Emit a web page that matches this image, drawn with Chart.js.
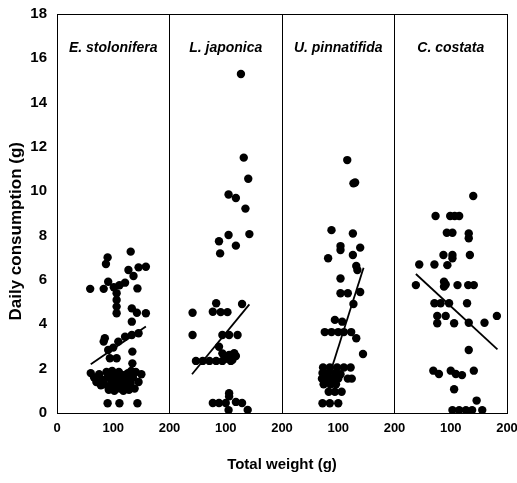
<!DOCTYPE html>
<html>
<head>
<meta charset="utf-8">
<script src="https://cdn.jsdelivr.net/npm/chart.js@4/dist/chart.umd.min.js"></script>
<style>
  body { margin: 0; background: #fff; }
</style>
</head>
<body>
<canvas id="chart" width="517" height="483"></canvas>
<script>
// species shown in the four panels (each panel spans 0-200 g on x)
const species = ['E. stolonifera', 'L. japonica', 'U. pinnatifida', 'C. costata'];

// E. stolonifera
const stoloniferaWeight = [131, 90, 87, 158, 145, 127, 136, 59, 83, 91, 101, 111, 121, 143, 106, 106, 106, 106, 133, 142, 158, 133,
  85, 83, 121, 133, 145, 109, 91, 100, 94, 106, 134, 134,
  60, 66, 70, 75, 80, 84, 88, 90, 94, 97, 100, 102, 105, 107, 110, 112, 115, 118, 120, 123, 126, 128, 131, 135, 140, 145, 150, 138, 92, 78, 118, 98, 132,
  90, 111, 143];
const stoloniferaConsumption = [7.28, 7.02, 6.72, 6.6, 6.57, 6.45, 6.18, 5.6, 5.6, 5.92, 5.67, 5.76, 5.88, 5.62, 5.4, 5.1, 4.8, 4.5, 4.72, 4.52, 4.5, 4.12,
  3.37, 3.22, 3.44, 3.52, 3.6, 3.22, 2.84, 2.95, 2.47, 2.47, 2.77, 2.24,
  1.8, 1.6, 1.4, 1.75, 1.5, 1.3, 1.85, 1.6, 1.2, 1.45, 1.75, 1.0, 1.3, 1.55, 1.85, 1.1, 1.4, 1.7, 1.25, 1.5, 1.8, 1.05, 1.35, 1.6, 1.85, 1.4, 1.75, 1.1, 1.05, 1.25, 1.0, 1.9, 1.9,
  0.44, 0.44, 0.44];

// L. japonica
const japonicaWeight = [127, 132, 140, 105, 118, 135, 105, 142, 88, 118, 90,
  41, 83, 77, 91, 103, 129, 41, 94, 106, 121, 88, 94, 106, 118, 47, 59, 71, 83, 94, 109, 100, 112, 115,
  106, 106, 77, 88, 100, 118, 129, 105, 139];
const japonicaConsumption = [15.29, 11.52, 10.57, 9.86, 9.7, 9.22, 8.03, 8.07, 7.75, 7.55, 7.2,
  4.52, 4.95, 4.57, 4.55, 4.55, 4.92, 3.52, 3.52, 3.52, 3.52, 2.99, 2.69, 2.62, 2.57, 2.35, 2.35, 2.35, 2.35, 2.35, 2.35, 2.45, 2.4, 2.7,
  0.89, 0.75, 0.45, 0.45, 0.45, 0.5, 0.45, 0.13, 0.14];

// U. pinnatifida
const pinnatifidaWeight = [116, 127, 130, 88, 126, 104, 104, 139, 82, 126, 132, 134, 104, 104, 117, 139, 127, 94, 107, 76, 88, 100, 110, 123, 132, 144,
  73, 85, 98, 110, 122, 72, 82, 94, 104, 71, 80, 90, 100, 117, 124, 74, 86, 96, 83, 94, 106, 72, 85, 100];
const pinnatifidaConsumption = [11.41, 10.36, 10.4, 8.25, 8.1, 7.53, 7.35, 7.46, 6.98, 7.13, 6.63, 6.45, 6.07, 5.4, 5.4, 5.46, 4.92, 4.2, 4.12, 3.65, 3.65, 3.65, 3.65, 3.65, 3.37, 2.66,
  2.05, 2.05, 2.05, 2.05, 2.05, 1.8, 1.8, 1.8, 1.75, 1.55, 1.55, 1.55, 1.55, 1.55, 1.55, 1.3, 1.3, 1.3, 0.96, 0.96, 0.96, 0.44, 0.44, 0.44];

// C. costata
const costataWeight = [140, 73, 99, 107, 115, 93, 103, 132, 132, 87, 103, 103, 134, 44, 71, 94, 38, 88, 88, 91, 112, 131, 141,
  71, 82, 97, 129, 76, 76, 91, 106, 132, 160, 182, 132, 69, 79, 100, 109, 120, 141, 106, 146, 103, 115, 127, 138, 156];
const costataConsumption = [9.79, 8.89, 8.89, 8.89, 8.89, 8.13, 8.13, 8.1, 7.88, 7.13, 7.13, 6.98, 7.13, 6.7, 6.7, 6.67, 5.77, 5.92, 5.7, 5.8, 5.77, 5.77, 5.77,
  4.95, 4.95, 4.95, 4.95, 4.38, 4.05, 4.38, 4.05, 4.07, 4.07, 4.38, 2.84, 1.91, 1.76, 1.91, 1.76, 1.71, 1.91, 1.07, 0.56, 0.13, 0.13, 0.13, 0.13, 0.13];

// regression line end points per panel
const fitWeight = [[60, 158], [40, 142], [78, 145], [38, 183]];
const fitConsumption = [[2.2, 3.9], [1.75, 4.9], [1.2, 6.55], [6.27, 2.87]];

const yTicks = [0, 2, 4, 6, 8, 10, 12, 14, 16, 18];

const weights = [stoloniferaWeight, japonicaWeight, pinnatifidaWeight, costataWeight];
const consumptions = [stoloniferaConsumption, japonicaConsumption, pinnatifidaConsumption, costataConsumption];

const datasets = [];
species.forEach((name, i) => {
  datasets.push({
    label: name,
    data: weights[i].map((w, j) => ({ x: w + i * 200, y: consumptions[i][j] })),
    backgroundColor: '#000',
    borderColor: '#000',
    pointRadius: 4.2,
    pointBorderWidth: 0
  });
  datasets.push({
    label: name + ' fit',
    type: 'line',
    data: fitWeight[i].map((w, j) => ({ x: w + i * 200, y: fitConsumption[i][j] })),
    borderColor: '#000',
    borderWidth: 1.8,
    pointRadius: 0,
    fill: false
  });
});

const fontFamily = '"Liberation Sans", Arial, sans-serif';

// species names at the top of each panel, plus the y axis title (sits a bit low in the original)
const panelLabels = {
  id: 'panelLabels',
  afterDatasetsDraw(chart) {
    const { ctx, scales: { x, y } } = chart;
    ctx.save();
    ctx.font = 'italic bold 14px ' + fontFamily;
    ctx.fillStyle = '#000';
    ctx.textAlign = 'center';
    ctx.textBaseline = 'middle';
    species.forEach((name, i) => {
      ctx.fillText(name, x.getPixelForValue(i * 200 + 100), y.getPixelForValue(16.45));
    });
    ctx.font = 'bold 17px ' + fontFamily;
    ctx.translate(16, y.getPixelForValue(8.2));
    ctx.rotate(-Math.PI / 2);
    ctx.fillText('Daily consumption (g)', 0, 0);
    ctx.restore();
  }
};

new Chart(document.getElementById('chart'), {
  type: 'scatter',
  data: { datasets },
  plugins: [panelLabels],
  options: {
    responsive: false,
    animation: false,
    layout: { padding: { left: 0, right: 10, top: 14, bottom: 0 } },
    plugins: { legend: { display: false }, tooltip: { enabled: false } },
    scales: {
      x: {
        type: 'linear',
        min: 0,
        max: 800,
        afterFit(scale) { scale.height = 70; scale.paddingLeft = 0; scale.paddingRight = 0; },
        ticks: {
          stepSize: 100,
          padding: 8,
          color: '#000',
          maxRotation: 0,
          font: { family: fontFamily, weight: 'bold', size: 13 },
          callback: v => v === 0 ? '0' : (v % 200 === 0 ? '200' : '100')
        },
        grid: {
          drawTicks: false,
          color: c => (c.tick && c.tick.value % 200 === 0) ? '#000' : 'rgba(0,0,0,0)',
          lineWidth: 1
        },
        border: { display: true, color: '#000', width: 1 },
        title: {
          display: true,
          text: 'Total weight (g)',
          color: '#000',
          font: { family: fontFamily, weight: 'bold', size: 15 },
          padding: { top: 0, bottom: 9 }
        }
      },
      y: {
        min: 0,
        max: 18,
        afterFit(scale) { scale.width = 57; scale.paddingTop = 0; scale.paddingBottom = 0; },
        afterBuildTicks(scale) { scale.ticks = yTicks.map(v => ({ value: v })); },
        ticks: {
          padding: 10,
          color: '#000',
          font: { family: fontFamily, weight: 'bold', size: 15 }
        },
        grid: {
          drawTicks: false,
          color: c => (c.tick && c.tick.value === 18) ? '#000' : 'rgba(0,0,0,0)',
          lineWidth: 1
        },
        border: { display: true, color: '#000', width: 1 }
      }
    }
  }
});
</script>
</body>
</html>
